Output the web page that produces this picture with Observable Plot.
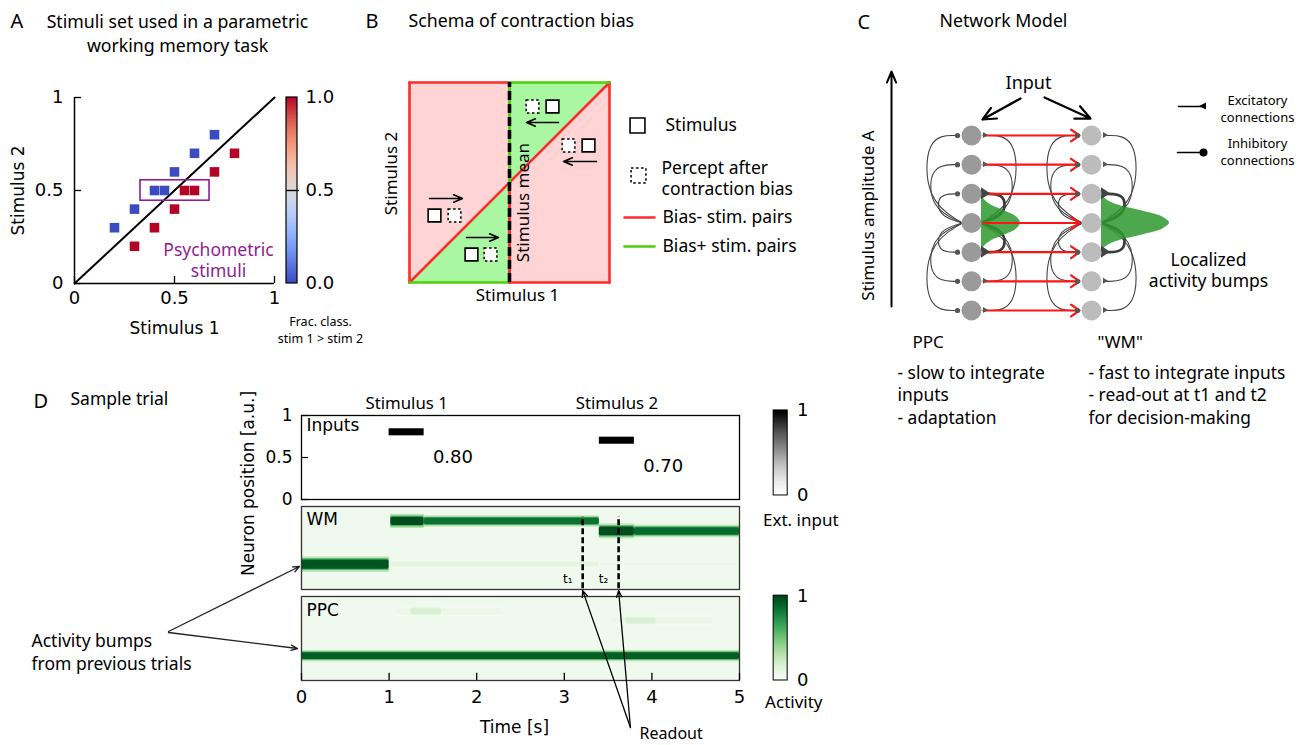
<!DOCTYPE html>
<html><head><meta charset="utf-8">
<script src="https://cdn.jsdelivr.net/npm/d3@7"></script>
<script src="https://cdn.jsdelivr.net/npm/@observablehq/plot@0.6"></script>
<style>
html,body{margin:0;padding:0;background:#fff;}
#page{position:relative;width:1298px;height:745px;overflow:hidden;background:#fff;}
</style></head><body><div id="page"></div>
<script>
// ================= DATA =================
// Panel A: stimulus set
const stimulus1 = [0.2, 0.3, 0.4, 0.45, 0.5, 0.6, 0.7, 0.3, 0.4, 0.5, 0.55, 0.6, 0.7, 0.8];
const stimulus2 = [0.3, 0.4, 0.5, 0.5, 0.6, 0.7, 0.8, 0.2, 0.3, 0.4, 0.5, 0.5, 0.6, 0.7];
const fracStim1Greater = [0, 0, 0, 0, 0, 0, 0, 1, 1, 1, 1, 1, 1, 1];
const psychometricS1 = [0.33, 0.675];
const psychometricS2 = [0.445, 0.555];
const ticksA = [0, 0.5, 1];
const tickLabelsA = ["0", "0.5", "1"];
const colorbarTicksA = [0, 0.5, 1];
const colorbarLabelsA = ["0.0", "0.5", "1.0"];

// Panel B: schema of contraction bias
const stimulusMean = 0.5;
const exampleS1 = [0.715, 0.895, 0.125, 0.31];
const exampleS2 = [0.88, 0.685, 0.335, 0.14];
const perceptS1 = [0.615, 0.795, 0.225, 0.405];
const arrowFrom = [0.745, 0.935, 0.1, 0.285];
const arrowTo = [0.585, 0.77, 0.265, 0.445];
const arrowS2 = [0.8, 0.605, 0.42, 0.225];

// Panel C: network model
const columns = ["PPC", "WM"];
const neuronRows = [0, 1, 2, 3, 4, 5, 6];
const bumpRow = 3;
const bumpProfileDy = [-30, -24, -18, -12, -6, 0, 6, 12, 18, 24, 30];
const bumpProfile = [0, 0.06, 0.24, 0.6, 0.9, 1, 0.9, 0.6, 0.24, 0.06, 0];
const bumpAmplitude = [39, 68];

// Panel D: sample trial
const inputOnset = [1.0, 3.4];
const inputOffset = [1.4, 3.8];
const inputValue = [0.80, 0.70];
const readoutTimes = [3.21, 3.62];
const timeTicks = [0, 1, 2, 3, 4, 5];
const positionTicks = [0, 0.5, 1];
const positionLabels = ["0", "0.5", "1"];
const wmStart = [1.0, 3.4, 0.0, 1.02, 1.4, 3.4, 3.8];
const wmEnd   = [3.4, 5.0, 1.0, 1.4, 3.4, 3.8, 5.0];
const wmPos   = [0.3, 0.3, 0.3, 0.82, 0.82, 0.7, 0.7];
const wmWidth = [0.05, 0.04, 0.11, 0.1, 0.08, 0.105, 0.09];
const wmLevel = [0.12, 0.07, 0.95, 0.97, 0.85, 0.97, 0.88];
const ppcStart = [1.1, 1.25, 3.55, 3.7, 0.0];
const ppcEnd   = [2.3, 1.6, 4.7, 4.05, 5.0];
const ppcPos   = [0.82, 0.82, 0.71, 0.71, 0.29];
const ppcWidth = [0.07, 0.07, 0.07, 0.07, 0.08];
const ppcLevel = [0.08, 0.17, 0.08, 0.17, 0.92];

// ================= HELPERS =================
const W = 1298, H = 745;
const SANS = "Noto Sans, DejaVu Sans, sans-serif";
const DEJAVU = "DejaVu Sans, sans-serif";
const PURPLE = "#8d1e91";
const RED = "#ff2a2a", GREEN = "#4fcf0a";
const coolwarm = d3.interpolateRgbBasis(["#3b4cc0","#6282ea","#8db0fe","#b8d0f9","#dddddd","#f5c4ad","#f49a7b","#de604d","#b40426"]);
const ramp = d3.range(0, 1, 0.01);
const page = document.getElementById("page");

function fullPage(frame, opts) {
  const svg = Plot.plot({
    width: W, height: H,
    marginLeft: frame.left, marginRight: W - frame.right,
    marginTop: frame.top, marginBottom: H - frame.bottom,
    style: {position: "absolute", left: "0px", top: "0px", background: "transparent",
            overflow: "visible", maxWidth: "none", fontFamily: DEJAVU, fontSize: "16px"},
    ...opts
  });
  page.appendChild(svg);
  return svg;
}
const T = d => d;

// ================= PANEL A =================
const trials = stimulus1.map((s1, i) => ({s1, s2: stimulus2[i], frac: fracStim1Greater[i]}));
fullPage({left: 74, right: 274, top: 97, bottom: 283}, {
  x: {domain: [0, 1], axis: null},
  y: {domain: [0, 1], axis: null},
  color: {type: "linear", domain: [0, 1], interpolate: coolwarm},
  marks: [
    Plot.line([[0, 0], [1, 1]], {stroke: "black", strokeWidth: 2}),
    Plot.rect([0], {x1: psychometricS1[0], x2: psychometricS1[1], y1: psychometricS2[0], y2: psychometricS2[1],
      fill: "none", stroke: PURPLE, strokeWidth: 1.6}),
    Plot.dot(trials, {x: "s1", y: "s2", fill: "frac", symbol: "square", r: 5.4}),
    Plot.ruleX([0], {y1: 0, y2: 1, stroke: "black", strokeWidth: 1.5}),
    Plot.ruleY([0], {x1: 0, x2: 1, stroke: "black", strokeWidth: 1.5}),
    Plot.ruleX(ticksA, {y1: 0, y2: 0.038, stroke: "black", strokeWidth: 1.3}),
    Plot.ruleY(ticksA, {x1: 0, x2: 0.035, stroke: "black", strokeWidth: 1.3}),
    Plot.text(ticksA, {x: T, y: 0, dy: 15, text: (d, i) => tickLabelsA[i], fontSize: 18}),
    Plot.text(ticksA, {x: 0, y: T, dx: -11, textAnchor: "end", text: (d, i) => tickLabelsA[i], fontSize: 18}),
    Plot.text(["Stimulus 1"], {x: 0.5, y: 0, dy: 45, text: T, fontSize: 17}),
    Plot.text(["Stimulus 2"], {x: 0, y: 0.5, dx: -56, rotate: -90, text: T, fontSize: 17}),
    Plot.text(["Psychometric\nstimuli"], {x: 0.72, y: 0.129, text: T, fill: PURPLE, fontSize: 17.5,
      fontFamily: SANS, lineHeight: 1.25}),
    Plot.rect(ramp, {x1: 1.06, x2: 1.115, y1: T, y2: d => Math.min(1, d + 0.02), fill: d => d + 0.005}),
    Plot.rect([0], {x1: 1.06, x2: 1.115, y1: 0, y2: 1, fill: "none", stroke: "black", strokeWidth: 1.2}),
    Plot.ruleY([0.5], {x1: 1.06, x2: 1.125, stroke: "black", strokeWidth: 1.4}),
    Plot.text(colorbarTicksA, {x: 1.155, y: T, text: (d, i) => colorbarLabelsA[i], textAnchor: "start", fontSize: 18}),
    Plot.text(["Frac. class.\nstim 1 > stim 2"], {x: 1.23, y: 0, dy: 45.5, text: T, fontSize: 12.5,
      fontFamily: SANS, lineHeight: 1.35})
  ]
});

// ================= PANEL B =================
const seg = (list) => list.flatMap((s, i) => s.map(([x, y]) => ({i, x, y})));
const redEdges = seg([[[0, 0], [0, 1]], [[1, 0], [1, 1]], [[0, 1], [0.5, 1]], [[0.5, 0], [1, 0]], [[0, 0], [1, 1]]]);
const greenEdges = seg([[[0.5, 1], [1, 1]], [[0, 0], [0.5, 0]]]);
const biasPlus = [
  {r: "upper", x: stimulusMean, y1: stimulusMean, y2: 1}, {r: "upper", x: 1, y1: 1, y2: 1},
  {r: "lower", x: 0, y1: 0, y2: 0}, {r: "lower", x: stimulusMean, y1: 0, y2: stimulusMean}
];
const examples = exampleS1.map((s1, i) => ({s1, s2: exampleS2[i], p1: perceptS1[i], a0: arrowFrom[i], a1: arrowTo[i], ay: arrowS2[i]}));
fullPage({left: 409, right: 609, top: 82, bottom: 282}, {
  x: {domain: [0, 1], axis: null},
  y: {domain: [0, 1], axis: null},
  marks: [
    Plot.rect([0], {x1: 0, x2: 1, y1: 0, y2: 1, fill: "#ffd4d4"}),
    Plot.areaY(biasPlus, {x: "x", y1: "y1", y2: "y2", z: "r", fill: "#a9f7a1"}),
    Plot.line(redEdges, {x: "x", y: "y", z: "i", stroke: RED, strokeWidth: 2.6}),
    Plot.line(greenEdges, {x: "x", y: "y", z: "i", stroke: GREEN, strokeWidth: 2.6}),
    Plot.line([[stimulusMean, 0], [stimulusMean, stimulusMean]], {stroke: RED, strokeWidth: 3}),
    Plot.line([[stimulusMean, stimulusMean], [stimulusMean, 1]], {stroke: GREEN, strokeWidth: 3}),
    Plot.ruleX([stimulusMean], {y1: 0, y2: 1, stroke: "black", strokeWidth: 3.6, strokeDasharray: "9,4"}),
    Plot.text(["Stimulus mean"], {x: stimulusMean, y: 0.4, dx: 14, rotate: -90, text: T, fontSize: 17, fontFamily: SANS}),
    Plot.arrow(examples, {x1: "a0", x2: "a1", y1: "ay", y2: "ay", stroke: "black", strokeWidth: 1.6, headLength: 9, headAngle: 45}),
    Plot.dot(examples, {x: "s1", y: "s2", symbol: "square", r: 7.2, fill: "white", stroke: "black", strokeWidth: 1.6}),
    Plot.dot(examples, {x: "p1", y: "s2", symbol: "square", r: 7.2, fill: "white", stroke: "black", strokeWidth: 1.5, strokeDasharray: "2.5,2.5"}),
    Plot.text(["Stimulus 2"], {x: 0, y: 0.545, dx: -18, rotate: -90, text: T, fontSize: 17, fontFamily: SANS}),
    Plot.text(["Stimulus 1"], {x: 0.54, y: 0, dy: 13, text: T, fontSize: 17, fontFamily: SANS}),
    // legend
    Plot.dot([0], {x: 1.14, y: 0.785, symbol: "square", r: 8.4, fill: "white", stroke: "black", strokeWidth: 1.6}),
    Plot.dot([0], {x: 1.145, y: 0.535, symbol: "square", r: 8.4, fill: "white", stroke: "black", strokeWidth: 1.5, strokeDasharray: "2.5,2.5"}),
    Plot.line([[1.075, 0.325], [1.225, 0.325]], {stroke: RED, strokeWidth: 2.6}),
    Plot.line([[1.075, 0.18], [1.225, 0.18]], {stroke: GREEN, strokeWidth: 2.6}),
    Plot.text(["Stimulus"], {x: 1.28, y: 0.785, text: T, textAnchor: "start", fontSize: 17.5, fontFamily: SANS}),
    Plot.text(["Percept after\ncontraction bias"], {x: 1.26, y: 0.525, text: T, textAnchor: "start", fontSize: 17.5, fontFamily: SANS, lineHeight: 1.25}),
    Plot.text(["Bias- stim. pairs"], {x: 1.265, y: 0.325, text: T, textAnchor: "start", fontSize: 17.5, fontFamily: SANS}),
    Plot.text(["Bias+ stim. pairs"], {x: 1.265, y: 0.18, text: T, textAnchor: "start", fontSize: 17.5, fontFamily: SANS})
  ]
});

// ================= PANEL D =================
const inputs = inputOnset.map((on, i) => ({on, off: inputOffset[i], value: inputValue[i]}));
const cbLo = 0.048, cbHi = 1.06;
fullPage({left: 301, right: 739, top: 415, bottom: 499}, {
  x: {domain: [0, 5], axis: null},
  y: {domain: [0, 1], axis: null},
  color: {type: "linear", domain: [0, 1], scheme: "greys"},
  marks: [
    Plot.rect(inputs, {x1: "on", x2: "off", y1: d => d.value - 0.042, y2: d => d.value + 0.042, fill: () => 1}),
    Plot.frame({stroke: "black", strokeWidth: 1.3}),
    Plot.ruleY(positionTicks, {x1: 0, x2: 0.08, stroke: "black", strokeWidth: 1.2}),
    Plot.text(positionTicks, {x: 0, y: T, dx: -9, textAnchor: "end", text: (d, i) => positionLabels[i], fontSize: 17}),
    Plot.text(inputs, {x: d => d.off + 0.1, y: d => d.value - 0.3, text: d => d.value.toFixed(2), textAnchor: "start", fontSize: 18}),
    Plot.text(["Inputs"], {x: 0, y: 1, dx: 5, dy: 10, text: T, textAnchor: "start", fontSize: 17}),
    Plot.text(inputs, {x: d => (d.on + d.off) / 2, y: 1, dy: -12, text: (d, i) => `Stimulus ${i + 1}`, fontSize: 16.8, fontFamily: SANS}),
    Plot.rect(ramp, {x1: 5.39, x2: 5.55, y1: d => cbLo + d * (cbHi - cbLo), y2: d => cbLo + Math.min(1, d + 0.02) * (cbHi - cbLo), fill: d => d + 0.005}),
    Plot.rect([0], {x1: 5.39, x2: 5.55, y1: cbLo, y2: cbHi, fill: "none", stroke: "black", strokeWidth: 1}),
    Plot.text([0, 1], {x: 5.655, y: d => cbLo + d * (cbHi - cbLo), text: d => String(d), textAnchor: "start", fontSize: 18}),
    Plot.text(["Ext. input"], {x: 5.7, y: -0.25, text: T, fontSize: 17, fontFamily: SANS})
  ]
});

function bands(start, end, pos, width, level) {
  return start.map((t0, i) => ({t0, t1: end[i], pos: pos[i], w: width[i], level: level[i]}));
}
const wmBands = bands(wmStart, wmEnd, wmPos, wmWidth, wmLevel);
const ppcBands = bands(ppcStart, ppcEnd, ppcPos, ppcWidth, ppcLevel);
const bandMarks = (b) => [
  Plot.rect([0], {x1: 0, x2: 5, y1: 0, y2: 1, fill: () => 0.045}),
  Plot.rect(b, {x1: "t0", x2: "t1", y1: d => d.pos - d.w * 0.85, y2: d => d.pos + d.w * 0.85, fill: d => d.level * 0.3}),
  Plot.rect(b, {x1: "t0", x2: "t1", y1: d => d.pos - d.w * 0.65, y2: d => d.pos + d.w * 0.65, fill: d => d.level * 0.6}),
  Plot.rect(b, {x1: "t0", x2: "t1", y1: d => d.pos - d.w / 2, y2: d => d.pos + d.w / 2, fill: "level", rx: 2})
];
fullPage({left: 301, right: 739, top: 506, bottom: 589}, {
  x: {domain: [0, 5], axis: null},
  y: {domain: [0, 1], axis: null},
  color: {type: "linear", domain: [0, 1], scheme: "greens"},
  marks: [
    ...bandMarks(wmBands),
    Plot.frame({stroke: "#333", strokeWidth: 1.3}),
    Plot.ruleX(readoutTimes, {y1: 0.01, y2: 0.88, stroke: "black", strokeWidth: 2.6, strokeDasharray: "6,3"}),
    Plot.text(readoutTimes, {x: T, y: 0.13, dx: -15, text: (d, i) => ["t₁", "t₂"][i], fontSize: 12}),
    Plot.text(["WM"], {x: 0, y: 1, dx: 5, dy: 13, text: T, textAnchor: "start", fontSize: 17})
  ]
});

fullPage({left: 301, right: 739, top: 596, bottom: 680}, {
  x: {domain: [0, 5], axis: null},
  y: {domain: [0, 1], axis: null},
  color: {type: "linear", domain: [0, 1], scheme: "greens"},
  marks: [
    ...bandMarks(ppcBands),
    Plot.frame({stroke: "#333", strokeWidth: 1.3}),
    Plot.ruleX(timeTicks, {y1: 0, y2: 0.085, stroke: "black", strokeWidth: 1.3}),
    Plot.text(timeTicks, {x: T, y: 0, dy: 17, text: d => String(d), fontSize: 18}),
    Plot.text(["Time [s]"], {x: 2.5, y: 0, dx: -6, dy: 47, text: T, fontSize: 17}),
    Plot.text(["PPC"], {x: 0, y: 1, dx: 5, dy: 14, text: T, textAnchor: "start", fontSize: 17}),
    Plot.arrow(readoutTimes, {x1: 3.755, y1: -0.56, x2: T, y2: 1.07, stroke: "black", strokeWidth: 1.3, headLength: 8, headAngle: 45}),
    Plot.text(["Readout"], {x: 4.22, y: -0.64, text: T, fontSize: 16, fontFamily: SANS}),
    Plot.rect(ramp, {x1: 5.39, x2: 5.55, y1: T, y2: d => Math.min(1.01, d + 0.02), fill: d => d + 0.005}),
    Plot.rect([0], {x1: 5.39, x2: 5.55, y1: 0, y2: 1.01, fill: "none", stroke: "black", strokeWidth: 1}),
    Plot.text([0, 1], {x: 5.655, y: T, text: d => String(d), textAnchor: "start", fontSize: 18}),
    Plot.text(["Activity"], {x: 5.62, y: -0.26, text: T, fontSize: 17, fontFamily: SANS})
  ]
});

// ================= PANEL C =================
const PX = 120, PY = 175 / 6;
const reach = {1: 29, 2: 37, 3: 41};
const conn = [];
for (let c = 0; c < columns.length; c++) for (const s of [-1, 1]) for (const k of neuronRows) {
  if (k === bumpRow) continue;
  const d = Math.abs(k - bumpRow), w = reach[d] + 5;
  const id = `${c}_${s}_${k}`, bold = d === 1 && s === 1;
  [[c + s * 14 / PX, k], [c + s * w / PX, k], [c + s * w / PX, k + (bumpRow - k) * 0.75], [c + s * 9 / PX, bumpRow]]
    .forEach(([x, y]) => conn.push({id, x, y, bold}));
}
const tris = [];
for (let c = 0; c < columns.length; c++) for (const k of neuronRows) {
  if (k === bumpRow) continue;
  const big = Math.abs(k - bumpRow) === 1;
  const xb = c + (big ? 10 : 12) / PX, xa = c + (big ? 19 : 17) / PX, h = (big ? 6 : 3) / PY;
  const id = `${c}_${k}`;
  tris.push({id, big, y: k + h, x1: xb, x2: xb}, {id, big, y: k, x1: xb, x2: xa}, {id, big, y: k - h, x1: xb, x2: xb});
}
const inhib = [];
for (let c = 0; c < columns.length; c++) for (const k of neuronRows) if (k !== bumpRow) inhib.push({x: c - 14 / PX, y: k});
const bumps = [];
for (let c = 0; c < columns.length; c++) bumpProfileDy.forEach((dy, i) =>
  bumps.push({c, y: bumpRow - dy / PY, x1: c + 10 / PX, x2: c + (10 + bumpProfile[i] * bumpAmplitude[c]) / PX}));
const neurons = columns.flatMap((name, c) => neuronRows.map(k => ({c, k})));

fullPage({left: 971, right: 1091, top: 135, bottom: 310}, {
  x: {domain: [0, 1], axis: null},
  y: {domain: [0, 6], axis: null},
  marks: [
    Plot.line(conn.filter(d => !d.bold), {x: "x", y: "y", z: "id", curve: "basis", stroke: "#444", strokeWidth: 1.1}),
    Plot.line(conn.filter(d => d.bold), {x: "x", y: "y", z: "id", curve: "basis", stroke: "#3a3a3a", strokeWidth: 2.6}),
    Plot.areaX(bumps, {y: "y", x1: "x1", x2: "x2", z: "c", curve: "catmull-rom", fill: "#2e992e", fillOpacity: 0.85}),
    Plot.arrow(neuronRows, {x1: 12 / PX, x2: 1 - 12 / PX, y1: T, y2: T, stroke: "#ff1414", strokeWidth: 2.2, headLength: 7, headAngle: 70}),
    Plot.areaX(tris.filter(d => d.big), {y: "y", x1: "x1", x2: "x2", z: "id", fill: "#444"}),
    Plot.areaX(tris.filter(d => !d.big), {y: "y", x1: "x1", x2: "x2", z: "id", fill: "#555"}),
    Plot.dot(inhib, {x: "x", y: "y", r: 2.6, fill: "#555"}),
    Plot.dot(neurons.filter(d => d.c === 0), {x: "c", y: "k", r: 10, fill: "#9a9a9a"}),
    Plot.dot(neurons.filter(d => d.c === 1), {x: "c", y: "k", r: 10, fill: "#bcbcbc"})
  ]
});

// ================= OVERLAY: titles, annotations =================
const note = (t, x, y, size, anchor = "start", extra = {}) =>
  Plot.text([t], {x, y, text: T, fontSize: size, textAnchor: anchor, fontFamily: SANS, ...extra});
fullPage({left: 0, right: W, top: 0, bottom: H}, {
  x: {domain: [0, W], range: [0, W], axis: null},
  y: {domain: [0, H], range: [0, H], axis: null},
  marks: [
    note("A", 10, 21, 20),
    note("Stimuli set used in a parametric\nworking memory task", 177, 32, 17.7, "middle", {lineHeight: 1.36}),
    note("B", 365, 21, 20),
    note("Schema of contraction bias", 408, 21, 17.8),
    note("C", 857, 22, 20),
    note("Network Model", 939, 21, 17.7),
    note("D", 33, 401, 20),
    note("Sample trial", 70, 399, 17.5),
    note("Neuron position [a.u.]", 248, 483, 17, "middle", {rotate: -90, fontFamily: DEJAVU}),
    note("Activity bumps\nfrom previous trials", 31, 650.5, 17.5, "start", {lineHeight: 1.32}),
    Plot.arrow([0], {x1: 168, y1: 631, x2: 299, y2: 566, stroke: "#222", strokeWidth: 1.3, headLength: 8, headAngle: 45}),
    Plot.arrow([0], {x1: 168, y1: 632, x2: 297, y2: 648, stroke: "#222", strokeWidth: 1.3, headLength: 8, headAngle: 45}),
    // Panel C annotations
    Plot.arrow([0], {x1: 891, y1: 306, x2: 891, y2: 71, stroke: "black", strokeWidth: 2, headLength: 9, headAngle: 45}),
    note("Stimulus amplitude A", 868, 215, 17, "middle", {rotate: -90}),
    note("Input", 1028, 83, 18, "middle"),
    Plot.arrow([0], {x1: 1020, y1: 98, x2: 982, y2: 119, stroke: "black", strokeWidth: 2.2, headLength: 11, headAngle: 50}),
    Plot.arrow([0], {x1: 1044, y1: 97, x2: 1090, y2: 118, stroke: "black", strokeWidth: 2.2, headLength: 11, headAngle: 50}),
    Plot.line([[1178, 106], [1203, 106]], {stroke: "black", strokeWidth: 1.5}),
    Plot.areaX([{y: 102.5, x1: 1206, x2: 1206}, {y: 106, x1: 1206, x2: 1199}, {y: 109.5, x1: 1206, x2: 1206}], {y: "y", x1: "x1", x2: "x2", fill: "black"}),
    Plot.line([[1177, 152], [1202, 152]], {stroke: "black", strokeWidth: 1.5}),
    Plot.dot([0], {x: 1203, y: 152, r: 4, fill: "black"}),
    note("Excitatory\nconnections", 1257, 107.5, 13, "middle", {lineHeight: 1.3}),
    note("Inhibitory\nconnections", 1257, 151, 13, "middle", {lineHeight: 1.3}),
    note("Localized\nactivity bumps", 1208, 269, 17.5, "middle", {lineHeight: 1.25}),
    note("PPC", 912, 342, 17),
    note("\"WM\"", 1097, 342, 17),
    note("- slow to integrate\ninputs\n- adaptation", 897, 393.5, 17.4, "start", {lineHeight: 1.29}),
    note("- fast to integrate inputs\n- read-out at t1 and t2\nfor decision-making", 1088, 393.5, 17.4, "start", {lineHeight: 1.29})
  ]
});
</script></body></html>
